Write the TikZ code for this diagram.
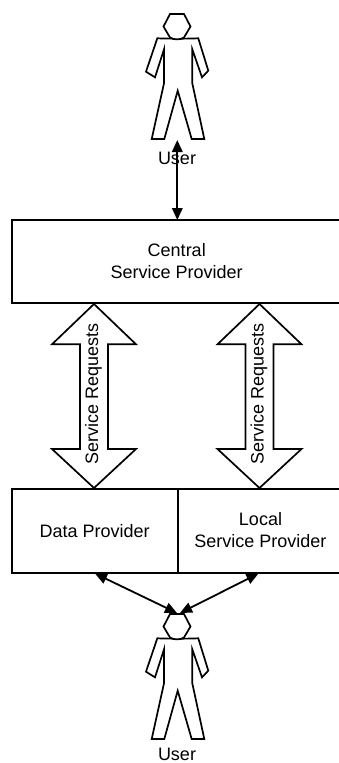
\documentclass[tikz,border=0pt]{standalone}
\usepackage{fontspec}
\setmainfont{Liberation Sans}
\usetikzlibrary{arrows.meta}
\tikzset{
  figure/.style={draw=black,line width=1.7pt,line join=miter,fill=white},
  boxnode/.style={draw=black,line width=2pt,inner sep=0pt,outer sep=0pt,align=center,font=\fontsize{18}{22}\selectfont},
  lbl/.style={font=\fontsize{18}{22}\selectfont,inner sep=0pt},
  link/.style={line width=1.8pt,{Triangle[length=12pt,width=10.5pt]}-{Triangle[length=12pt,width=10.5pt]}},
  pics/person/.style={code={
    \draw[figure] (-19.7,38.3) -- (-31,71.7) -- (-22,77.3) -- (-13,49.3) -- (-13,83.3) -- (-25.3,139) -- (-12.7,139) -- (0.7,90.7) -- (14.7,139) -- (27.3,139) -- (15.3,83.3) -- (15.3,49.3) -- (25,77.3) -- (31.3,70.7) -- (21.3,38.3) .. controls (10,38.8) and (-8,38.8) .. cycle;
    \draw[figure] (-7,14) -- (7,14) -- (13.5,26.5) -- (7,37.5) .. controls (3,40) and (-3,40) .. (-7,37.5) -- (-13.5,26.5) -- cycle;
  }}
}
\begin{document}
\begin{tikzpicture}[x=1pt,y=-1pt]
\useasboundingbox (0,0) rectangle (339,763);
\clip (0,0) rectangle (339,763);
\pic at (177,0) {person};
\pic at (177,600) {person};
\node[lbl] (user1) at (177,158) {User};
\node[lbl,anchor=base] (user2) at (177,760) {User};
\node[boxnode,minimum width=329.5pt,minimum height=82.5pt,anchor=north west] (central) at (12,220) {Central\\[0.6pt]Service Provider};
\node[boxnode,minimum width=165.5pt,minimum height=83.5pt,anchor=north west] (data) at (12,489) {Data Provider};
\node[boxnode,minimum width=166pt,minimum height=83.5pt,anchor=north west] (local) at (177.5,489) {};
\node[lbl,align=center,yshift=1pt] (localtext) at (local.center) {Local\\Service Provider};
\foreach \n/\cx in {a/94,b/259.5}{
  \draw[figure] (\cx,304) -- (\cx+42,344.3) -- (\cx+14,344.3) -- (\cx+14,449) -- (\cx+42,449) -- (\cx,488) -- (\cx-42,449) -- (\cx-14,449) -- (\cx-14,344.3) -- (\cx-42,344.3) -- cycle;
  \node[lbl,rotate=90] (req\n) at (\cx-.5,393.5) {Service Requests};
}
\coordinate (topuser) at (177.3,140);
\coordinate (botl) at (177,613);
\coordinate (botr) at (180,613);
\coordinate (dataend) at (95,573.5);
\coordinate (localend) at (258.5,573.5);
\draw[link] (topuser) -- (topuser |- central.north);
\draw[link] (dataend) -- (botl);
\draw[link] (localend) -- (botr);
\end{tikzpicture}
\end{document}
